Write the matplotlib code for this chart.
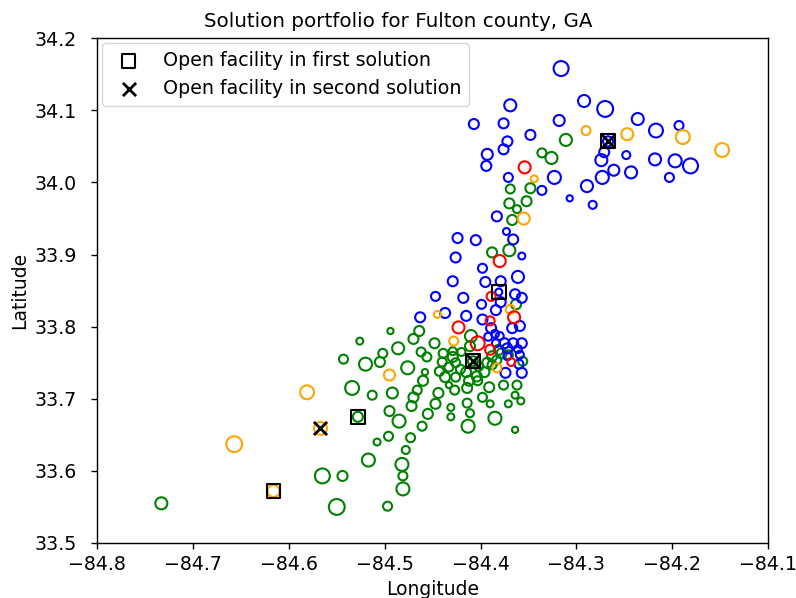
# Solution portfolio map for Fulton county

import matplotlib.pyplot as plt

plt.rcParams['font.size'] = 13.5
plt.rcParams['xtick.labelsize'] = 13.7
plt.rcParams['ytick.labelsize'] = 13.7
plt.rcParams['xtick.major.size'] = 4.4
plt.rcParams['ytick.major.size'] = 4.4
plt.rcParams['xtick.major.pad'] = 4.4
plt.rcParams['ytick.major.pad'] = 10
plt.rcParams['xtick.major.width'] = 1.0
plt.rcParams['ytick.major.width'] = 1.0
plt.rcParams['axes.linewidth'] = 1.0

# Demand points: longitude, latitude, marker size, grouped by colour
blue_lon = [-84.316, -84.369, -84.292, -84.270, -84.407, -84.376, -84.318, -84.236, -84.217, -84.193,
            -84.372, -84.348, -84.267, -84.376, -84.393, -84.394, -84.271, -84.274, -84.248, -84.218,
            -84.197, -84.181, -84.323, -84.273, -84.261, -84.243, -84.203, -84.371, -84.336, -84.289,
            -84.307, -84.283, -84.383, -84.373, -84.366, -84.405, -84.424, -84.426, -84.357, -84.398,
            -84.429, -84.395, -84.379, -84.361, -84.381, -84.364, -84.357, -84.418, -84.447, -84.399,
            -84.379, -84.384, -84.437, -84.463, -84.415, -84.398, -84.389, -84.367, -84.359, -84.385,
            -84.380, -84.392, -84.384, -84.375, -84.366, -84.357, -84.372, -84.361, -84.359, -84.360,
            -84.372, -84.374, -84.357]
blue_lat = [34.158, 34.107, 34.113, 34.102, 34.081, 34.082, 34.086, 34.088, 34.072, 34.079,
            34.057, 34.066, 34.057, 34.046, 34.039, 34.023, 34.042, 34.031, 34.038, 34.032,
            34.030, 34.023, 34.007, 34.007, 34.017, 34.014, 34.007, 34.007, 33.989, 33.995,
            33.978, 33.969, 33.953, 33.932, 33.921, 33.920, 33.923, 33.896, 33.898, 33.881,
            33.863, 33.862, 33.863, 33.869, 33.848, 33.845, 33.840, 33.840, 33.842, 33.831,
            33.834, 33.823, 33.819, 33.813, 33.815, 33.810, 33.798, 33.798, 33.801, 33.790,
            33.787, 33.786, 33.777, 33.777, 33.777, 33.777, 33.770, 33.769, 33.761, 33.748,
            33.759, 33.736, 33.736]
blue_size = [116, 75, 75, 130, 52, 52, 63, 75, 100, 42,
             52, 52, 52, 52, 63, 52, 52, 75, 33, 75,
             88, 116, 88, 88, 63, 75, 42, 42, 42, 75,
             20, 33, 52, 25, 52, 52, 52, 52, 25, 42,
             52, 52, 52, 75, 25, 52, 52, 52, 42, 42,
             52, 52, 52, 52, 52, 52, 52, 52, 52, 33,
             33, 33, 33, 52, 52, 52, 52, 33, 33, 42,
             33, 52, 52]

red_lon = [-84.354, -84.380, -84.389, -84.365, -84.390, -84.423, -84.403, -84.390, -84.368]
red_lat = [34.021, 33.891, 33.842, 33.813, 33.808, 33.799, 33.777, 33.768, 33.751]
red_size = [75, 75, 42, 75, 42, 75, 100, 52, 33]

orange_lon = [-84.445, -84.428, -84.369, -84.383, -84.495, -84.355, -84.344, -84.290, -84.247, -84.189,
              -84.148, -84.581, -84.567, -84.657, -84.616]
orange_lat = [33.817, 33.780, 33.824, 33.743, 33.733, 33.950, 34.005, 34.072, 34.067, 34.063,
              34.045, 33.709, 33.659, 33.637, 33.572]
orange_size = [25, 42, 42, 42, 63, 75, 25, 42, 75, 100,
               100, 100, 88, 130, 75]

green_lon = [-84.311, -84.336, -84.326, -84.369, -84.348, -84.370, -84.352, -84.362, -84.367, -84.388,
             -84.370, -84.363, -84.410, -84.411, -84.429, -84.420, -84.429, -84.426, -84.421, -84.433,
             -84.426, -84.415, -84.412, -84.404, -84.396, -84.402, -84.393, -84.388, -84.378, -84.383,
             -84.381, -84.371, -84.356, -84.388, -84.408, -84.494, -84.526, -84.464, -84.470, -84.448,
             -84.486, -84.502, -84.505, -84.462, -84.456, -84.439, -84.520, -84.476, -84.543, -84.458,
             -84.440, -84.443, -84.460, -84.437, -84.534, -84.513, -84.492, -84.466, -84.470, -84.444,
             -84.433, -84.427, -84.414, -84.403, -84.391, -84.376, -84.362, -84.364, -84.358, -84.495,
             -84.485, -84.472, -84.455, -84.447, -84.431, -84.431, -84.414, -84.411, -84.413, -84.398,
             -84.390, -84.385, -84.371, -84.364, -84.461, -84.496, -84.473, -84.508, -84.478, -84.517,
             -84.482, -84.481, -84.481, -84.497, -84.544, -84.550, -84.565, -84.733, -84.528]
green_lat = [34.059, 34.041, 34.034, 33.991, 33.992, 33.971, 33.974, 33.963, 33.948, 33.903,
             33.906, 33.831, 33.787, 33.773, 33.766, 33.765, 33.758, 33.750, 33.741, 33.744,
             33.730, 33.737, 33.725, 33.731, 33.737, 33.745, 33.750, 33.759, 33.763, 33.754,
             33.768, 33.761, 33.752, 33.747, 33.752, 33.794, 33.780, 33.794, 33.783, 33.777,
             33.770, 33.763, 33.751, 33.765, 33.758, 33.763, 33.748, 33.743, 33.755, 33.737,
             33.751, 33.738, 33.725, 33.730, 33.715, 33.705, 33.708, 33.712, 33.702, 33.708,
             33.719, 33.712, 33.715, 33.725, 33.716, 33.719, 33.719, 33.705, 33.697, 33.683,
             33.669, 33.690, 33.679, 33.693, 33.688, 33.675, 33.694, 33.680, 33.662, 33.702,
             33.693, 33.673, 33.693, 33.657, 33.662, 33.648, 33.646, 33.640, 33.629, 33.615,
             33.609, 33.593, 33.575, 33.551, 33.593, 33.550, 33.593, 33.555, 33.675]
green_size = [75, 42, 75, 42, 52, 52, 52, 33, 52, 52,
              75, 52, 75, 52, 33, 33, 52, 42, 42, 42,
              42, 52, 52, 52, 52, 42, 52, 52, 52, 42,
              52, 42, 42, 42, 52, 20, 25, 52, 52, 52,
              75, 42, 52, 42, 42, 42, 88, 88, 42, 20,
              42, 42, 52, 52, 100, 42, 63, 42, 52, 52,
              20, 42, 52, 42, 52, 42, 42, 25, 25, 52,
              88, 52, 52, 52, 25, 25, 42, 33, 88, 42,
              25, 88, 25, 20, 42, 42, 42, 25, 33, 88,
              88, 42, 88, 42, 52, 130, 116, 75, 52]

# Open facilities
first_lon = [-84.267, -84.381, -84.408, -84.528, -84.616]
first_lat = [34.057, 33.848, 33.752, 33.675, 33.572]
second_lon = [-84.267, -84.408, -84.567]
second_lat = [34.057, 33.752, 33.659]

fig, ax = plt.subplots(figsize=(7.96, 5.98), dpi=100)
fig.subplots_adjust(left=0.122, right=0.965, top=0.936, bottom=0.092)

for lon, lat, size, col in [(green_lon, green_lat, green_size, 'green'),
                            (blue_lon, blue_lat, blue_size, 'blue'),
                            (orange_lon, orange_lat, orange_size, 'orange'),
                            (red_lon, red_lat, red_size, 'red')]:
    ax.scatter(lon, lat, s=size, facecolors='none', edgecolors=col, linewidths=1.5)

ax.scatter(first_lon, first_lat, s=100, marker='s', facecolors='none', edgecolors='black',
           linewidths=1.5, label='Open facility in first solution')
ax.scatter(second_lon, second_lat, s=90, marker='x', color='black', linewidths=2,
           label='Open facility in second solution')

ax.set_xlim(-84.8, -84.1)
ax.set_ylim(33.5, 34.2)
ax.set_xlabel('Longitude')
ax.set_ylabel('Latitude')
fig.suptitle('Solution portfolio for Fulton county, GA', fontsize=14.3)
ax.legend(loc='upper left', fontsize=13.7, borderaxespad=0.25)

fig.savefig('out.png')
